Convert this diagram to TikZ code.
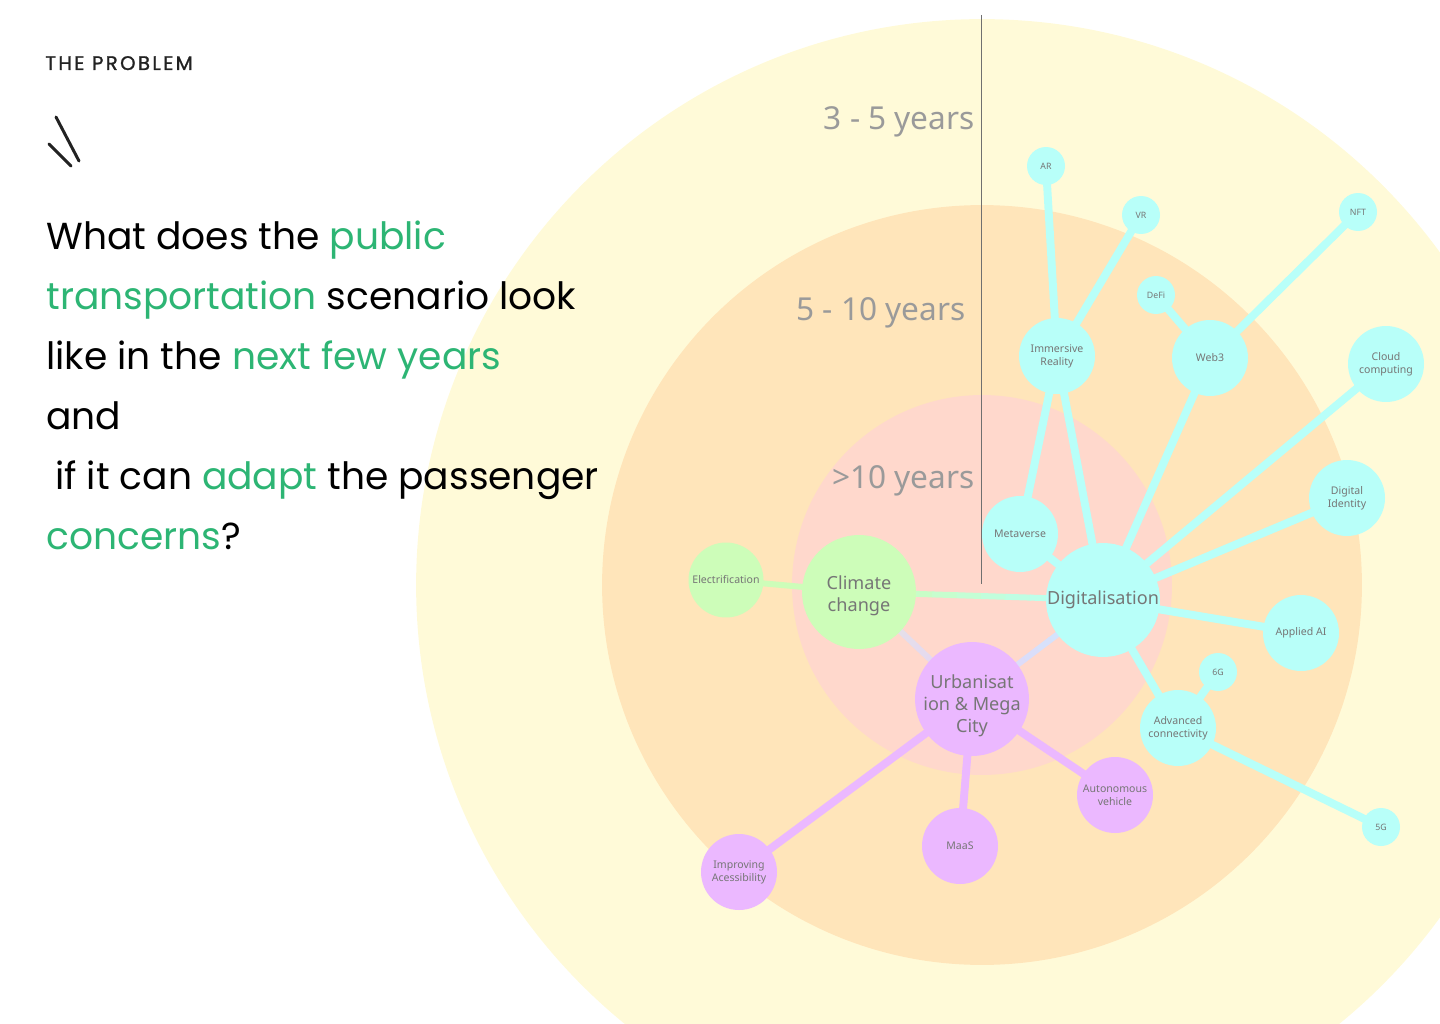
\documentclass[tikz,border=0pt]{standalone}
\usepackage{fontspec}
\setmainfont{Poppins}
\newfontfamily\bubblefont{Noto Sans}
\newfontfamily\kickerfont[LetterSpace=12,FakeBold=1.2]{Poppins}
\usetikzlibrary{backgrounds,positioning,calc}

\definecolor{ringout}{HTML}{FFFAD8}
\definecolor{ringmid}{HTML}{FFE5BA}
\definecolor{ringin}{HTML}{FFD8CC}
\definecolor{digcyan}{HTML}{B8FFF9}
\definecolor{climgreen}{HTML}{CDFDB9}
\definecolor{urbpurple}{HTML}{EBB8FF}
\definecolor{qgreen}{HTML}{2DB574}
\definecolor{nodetext}{HTML}{767676}
\definecolor{yeartext}{HTML}{9A9A9A}
\definecolor{axisgray}{HTML}{707070}
\definecolor{inkdark}{HTML}{222222}
\definecolor{climfade}{HTML}{E4E4E4}
\definecolor{urbfade}{HTML}{E6D4F6}
\definecolor{digfade}{HTML}{CCEBFF}

\pgfdeclarelayer{rings}
\pgfdeclarelayer{links}
\pgfsetlayers{rings,links,main}

\tikzset{
  bubble/.style={circle, inner sep=0pt, align=center, text=nodetext},
  hub/.style={bubble, minimum size=2.28cm, font=\bubblefont\fontsize{10.3}{12.5}\selectfont},
  topic/.style={bubble, minimum size=1.52cm, font=\bubblefont\fontsize{6}{7.4}\selectfont},
  leaf/.style={bubble, minimum size=0.76cm, font=\bubblefont\fontsize{5}{6}\selectfont},
  link/.style={line width=4.5pt},
  thinlink/.style={line width=3.4pt},
  yearlabel/.style={anchor=base east, inner sep=0pt, text=yeartext, font=\bubblefont\fontsize{18}{20}\selectfont},
  qline/.style={anchor=base west, inner sep=0pt, font=\fontsize{21.4}{25}\selectfont},
}

% lowered multi-line text inside a hub
\newcommand{\hubtext}[2]{\raisebox{#1}[0pt][0pt]{\parbox{2cm}{\centering #2}}}

% colour blend along a link, in ten pieces
\newcommand{\blendlink}[4]{%
  \foreach \i [evaluate=\i as \p using int(\i*11), evaluate=\i as \j using \i+1.05] in {0,...,9}
    \draw[thinlink, draw=#4!\p!#3] ($(#1)!\i/10!(#2)$) -- ($(#1)!\j/10!(#2)$);
}

\begin{document}
\begin{tikzpicture}[x=0.02cm, y=-0.02cm]
%
\useasboundingbox (0,0) rectangle (1440,1024);
\clip (0,0) rectangle (1440,1024);
%
\begin{pgfonlayer}{rings}
\fill[ringout] (982,585) circle (11.32cm);
\fill[ringmid] (982,585) circle (7.6cm);
\fill[ringin] (982,585) circle (3.8cm);
\end{pgfonlayer}
%
% left column
\node[anchor=base west, inner sep=0pt, text=inkdark, font=\kickerfont\fontsize{11.2}{12}\selectfont] (kicker) at (45,70) {THE PROBLEM};
\draw[inkdark, line width=1.7pt, line cap=round] (56,117) -- (79,161);
\draw[inkdark, line width=1.7pt, line cap=round] (49,144) -- (71,166);
\node[qline] (q1) at (46,249) {What does the \textcolor{qgreen}{public}};
\node[qline] (q2) at (46,309) {\textcolor{qgreen}{transportation} scenario look};
\node[qline] (q3) at (46,369) {like in the \textcolor{qgreen}{next few years}};
\node[qline] (q4) at (46,429) {and};
\node[qline] (q5) at (46,489) {\hspace{5pt}if it can \textcolor{qgreen}{adapt} the passenger};
\node[qline] (q6) at (46,549) {\textcolor{qgreen}{concerns}?};
%
% horizons
\node[yearlabel] (y35) at (975,130) {3 - 5 years};
\node[yearlabel] (y510) at (966,320) {5 - 10 years};
\node[yearlabel] (y10) at (975,488) {>10 years};
%
% hubs
\node[hub, fill=digcyan] (dig) at (1103,600) {Digitalisation};
\node[hub, fill=climgreen] (clim) at (859,592) {\hubtext{-4.8pt}{Climate\\change}};
\node[hub, fill=urbpurple] (urb) at (972,699) {\hubtext{-6.3pt}{Urbanisat\\ion \& Mega\\City}};
%
% digitalisation branch
\node[topic, fill=digcyan] (imm) at (1057,356) {Immersive\\Reality};
\node[topic, fill=digcyan] (web) at (1210,358) {Web3};
\node[topic, fill=digcyan] (cloud) at (1386,364) {Cloud\\computing};
\node[topic, fill=digcyan] (ident) at (1347,498) {Digital\\Identity};
\node[topic, fill=digcyan] (meta) at (1020,534) {Metaverse};
\node[topic, fill=digcyan] (ai) at (1301,633) {Applied AI};
\node[topic, fill=digcyan] (conn) at (1178,728) {Advanced\\connectivity};
\node[leaf, fill=digcyan] (ar) at (1046,166) {AR};
\node[leaf, fill=digcyan] (vr) at (1141,215) {VR};
\node[leaf, fill=digcyan] (nft) at (1358,212) {NFT};
\node[leaf, fill=digcyan] (defi) at (1156,295) {DeFi};
\node[leaf, fill=digcyan] (sixg) at (1218,672) {6G};
\node[leaf, fill=digcyan] (fiveg) at (1381,827) {5G};
%
% climate branch
\node[topic, fill=climgreen, minimum size=1.5cm] (elec) at (726,580) {Electrification};
%
% urbanisation branch
\node[topic, fill=urbpurple] (acc) at (739,872) {Improving\\Acessibility};
\node[topic, fill=urbpurple] (maas) at (960,846) {MaaS};
\node[topic, fill=urbpurple] (auto) at (1115,795) {Autonomous\\vehicle};
%
\begin{pgfonlayer}{links}
\draw[axisgray, line width=0.45pt] (981,15) -- (981,584);
\draw[link, digcyan] (ar.center) -- (imm.center);
\draw[link, digcyan] (vr.center) -- (imm.center);
\draw[link, digcyan] (imm.center) -- (meta.center);
\draw[link, digcyan] (imm.center) -- (dig.center);
\draw[link, digcyan] (meta.center) -- (dig.center);
\draw[link, digcyan] (defi.center) -- (web.center);
\draw[link, digcyan] (nft.center) -- (web.center);
\draw[link, digcyan] (web.center) -- (dig.center);
\draw[link, digcyan] (cloud.center) -- (dig.center);
\draw[link, digcyan] (ident.center) -- (dig.center);
\draw[link, digcyan] (ai.center) -- (dig.center);
\draw[link, digcyan] (conn.center) -- (dig.center);
\draw[link, digcyan] (sixg.center) -- (conn.center);
\draw[link, digcyan] (fiveg.center) -- (conn.center);
\draw[thinlink, climgreen] (elec.center) -- (clim.center);
\draw[link, urbpurple] (acc.center) -- (urb.center);
\draw[link, urbpurple] (maas.center) -- (urb.center);
\draw[link, urbpurple] (auto.center) -- (urb.center);
\blendlink{clim.center}{dig.center}{climgreen}{digcyan}
\blendlink{clim.center}{urb.center}{climfade}{urbfade}
\blendlink{dig.center}{urb.center}{digfade}{urbfade}
\end{pgfonlayer}
%
\end{tikzpicture}
\end{document}
